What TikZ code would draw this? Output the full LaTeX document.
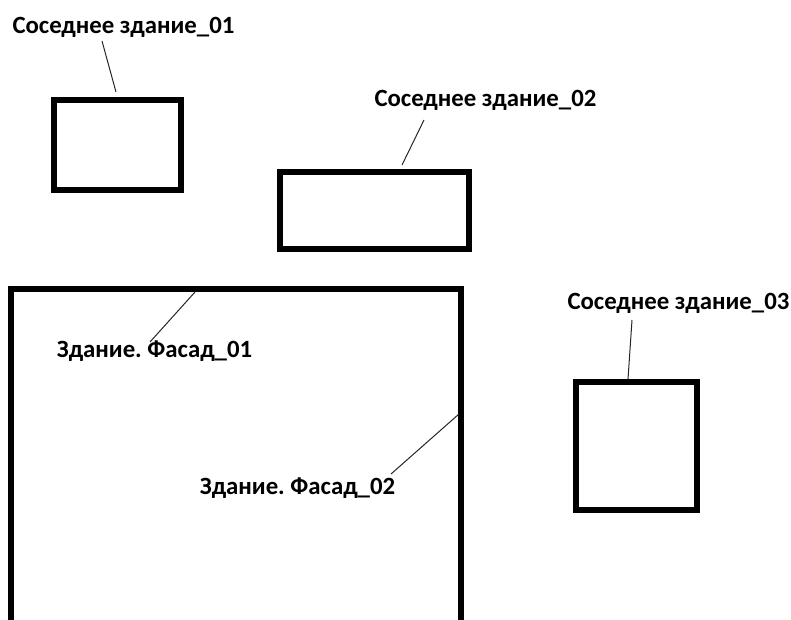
\documentclass[tikz,border=0pt]{standalone}
\usepackage{fontspec}
\setmainfont{Carlito}
\frenchspacing
\begin{document}
\begin{tikzpicture}[x=1pt,y=-1pt,
  lbl/.style={font=\fontsize{24.8}{28}\selectfont\bfseries, inner sep=0pt, anchor=base},
  bld/.style={draw, line width=6pt, inner sep=0pt},
  lead/.style={line width=1pt, draw=black!85}]
\useasboundingbox (0,0) rectangle (791,619);
% neighbouring buildings
\node[bld, minimum width=127pt, minimum height=90pt] (b1) at (117.5,145) {};
\node[bld, minimum width=189pt, minimum height=77pt] (b2) at (374.5,210.5) {};
\node[bld, minimum width=121pt, minimum height=128pt] (b3) at (636.5,446) {};
% main building (open at bottom)
\coordinate (mbl) at (11,622);
\coordinate (mtl) at (11,289);
\coordinate (mtr) at (461,289);
\coordinate (mbr) at (461,622);
\draw[line width=6pt] (mbl) -- (mtl) -- (mtr) -- (mbr);
% labels
\node[lbl] (l1) at (123.5,33) {Соседнее здание\_01};
\node[lbl] (l2) at (485.5,106) {Соседнее здание\_02};
\node[lbl] (l3) at (678.5,309) {Соседнее здание\_03};
\node[lbl] (f1) at (154.5,357) {Здание.\ Фасад\_01};
\node[lbl] (f2) at (297.5,494) {Здание.\ Фасад\_02};
% leader points
\coordinate (p1a) at (102,41);
\coordinate (p1b) at (116,92);
\coordinate (p2a) at (424,120);
\coordinate (p2b) at (402,165);
\coordinate (p3a) at (632,320);
\coordinate (p3b) at (628,379);
\coordinate (pf1a) at (195,292);
\coordinate (pf1b) at (150,342);
\coordinate (pf2a) at (459,414);
\coordinate (pf2b) at (391,474);
\draw[lead] (p1a) -- (p1b);
\draw[lead] (p2a) -- (p2b);
\draw[lead] (p3a) -- (p3b);
\draw[lead] (pf1a) -- (pf1b);
\draw[lead] (pf2a) -- (pf2b);
\end{tikzpicture}
\end{document}
